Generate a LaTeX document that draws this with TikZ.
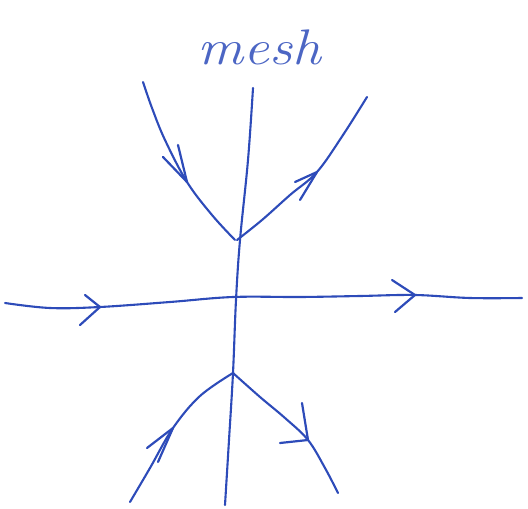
\documentclass[tikz,border=0pt]{standalone}
\usepackage{tikz}
\begin{document}
\begin{tikzpicture}[x=1pt,y=-1pt,
  pen/.style={draw=penblue,line width=2.1pt,line cap=round,line join=round},
  barb/.style={pen,line width=2.2pt}]
\definecolor{penblue}{RGB}{45,75,185}
\useasboundingbox (0,0) rectangle (528,509);
% text
\node[text=penblue!85!white,font=\itshape\fontsize{50}{50}\selectfont,xscale=1.15,anchor=base] (title) at (259,64) {mesh};
% vertical line
\draw[pen] plot[smooth,tension=0.6] coordinates {(253,88) (248,160) (240,240) (236,300) (233,373) (229,440) (225,505)};
% horizontal line
\draw[pen] plot[smooth,tension=0.6] coordinates {(5,303) (50,308) (100,307) (170,302) (233,297) (300,297) (360,296) (415,295) (470,298) (522,298)};
% upper branches
\draw[pen] plot[smooth,tension=0.6] coordinates {(143,82) (152,108) (165,140) (187,182) (212,215) (235,240)};
\draw[pen] plot[smooth,tension=0.6] coordinates {(237,240) (262,220) (290,195) (317,172) (343,135) (367,97)};
% lower branches
\draw[pen] plot[smooth,tension=0.6] coordinates {(130,502) (150,468) (173,428) (200,396) (233,373)};
\draw[pen] plot[smooth,tension=0.6] coordinates {(233,373) (260,397) (285,418) (308,440) (325,468) (338,493)};
% arrow barbs
\coordinate (ul) at (187,182);
\draw[barb] (163,157) -- (ul) -- (178,145);
\coordinate (ur) at (317,172);
\draw[barb] (295,182) -- (ur) -- (300,200);
\coordinate (hl) at (100,307);
\draw[barb] (85,295) -- (hl) -- (80,325);
\coordinate (hr) at (415,295);
\draw[barb] (392,280) -- (hr) -- (395,312);
\coordinate (ll) at (173,428);
\draw[barb] (147,448) -- (ll) -- (158,462);
\coordinate (lr) at (308,440);
\draw[barb] (302,403) -- (lr) -- (280,443);
\end{tikzpicture}
\end{document}
